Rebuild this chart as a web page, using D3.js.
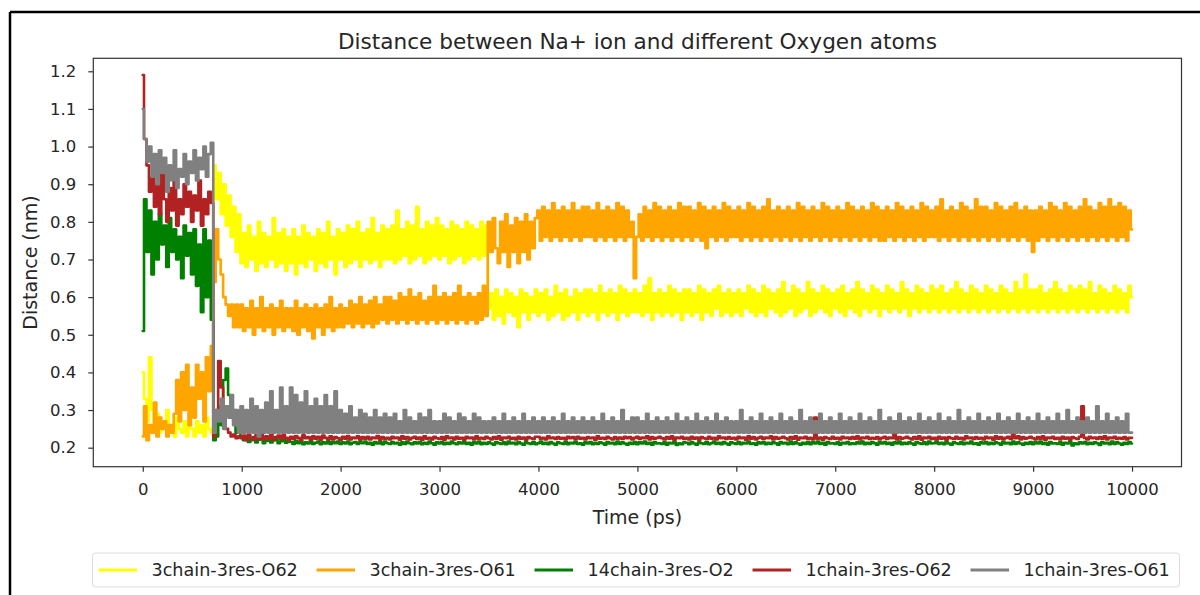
<!DOCTYPE html>
<html>
<head>
<meta charset="utf-8">
<script src="https://cdn.jsdelivr.net/npm/d3@7"></script>
<style>
  body { margin: 0; background: #fff; }
  svg { display: block; }
  text { font-family: "DejaVu Sans", sans-serif; fill: #262626; }
</style>
</head>
<body>
<svg id="chart" width="1200" height="595"></svg>
<script>
// Sampling interval of the trajectory (ps)
const timeStep = 25;

const seriesNames = ["3chain-3res-O62", "3chain-3res-O61", "14chain-3res-O2", "1chain-3res-O62", "1chain-3res-O61"];
const seriesColors = ["#ffff00", "#ffa500", "#008000", "#b22222", "#808080"];

const xTicks = [0, 1000, 2000, 3000, 4000, 5000, 6000, 7000, 8000, 9000, 10000];
const yTicks = [0.2, 0.3, 0.4, 0.5, 0.6, 0.7, 0.8, 0.9, 1.0, 1.1, 1.2];

// Distances (nm), one value per frame; each row covers 500 ps
const o62chain3 = [
  .40,.33,.27,.44,.30,.25,.29,.24,.27,.25,.30,.24,.26,.23,.28,.25,.24,.27,.23,.26,
  .25,.23,.27,.24,.26,.23,.28,.25,.24,.95,.86,.93,.82,.90,.79,.87,.76,.84,.72,.82,
  .69,.77,.68,.79,.70,.76,.67,.80,.69,.77,.68,.76,.70,.81,.68,.77,.69,.78,.67,.76,
  .69,.78,.66,.76,.69,.79,.68,.77,.70,.76,.67,.78,.69,.77,.68,.80,.70,.76,.66,.78,
  .70,.77,.68,.79,.69,.78,.70,.80,.68,.77,.70,.78,.69,.81,.70,.77,.68,.79,.70,.78,
  .70,.79,.69,.83,.70,.78,.71,.80,.69,.79,.70,.84,.71,.78,.69,.80,.70,.79,.71,.81,
  .70,.79,.71,.78,.69,.80,.70,.79,.71,.78,.69,.80,.70,.79,.71,.78,.70,.80,.71,.79,
  .57,.61,.54,.62,.55,.60,.53,.62,.56,.61,.55,.60,.52,.62,.56,.61,.54,.60,.56,.62,
  .55,.61,.56,.62,.54,.60,.55,.63,.56,.61,.54,.62,.55,.60,.56,.62,.54,.61,.56,.62,
  .55,.62,.56,.61,.54,.63,.56,.61,.55,.62,.56,.61,.54,.63,.56,.62,.55,.61,.56,.62,
  .56,.61,.55,.63,.56,.65,.54,.61,.56,.62,.55,.61,.56,.63,.55,.62,.56,.61,.54,.62,
  .56,.62,.55,.61,.56,.63,.54,.62,.56,.61,.55,.62,.57,.63,.55,.61,.56,.62,.55,.61,
  .56,.62,.55,.61,.57,.63,.56,.62,.55,.61,.56,.63,.55,.62,.57,.61,.56,.62,.55,.64,
  .56,.61,.57,.63,.55,.62,.56,.61,.57,.64,.55,.62,.56,.61,.57,.63,.56,.62,.55,.61,
  .57,.62,.56,.63,.55,.61,.57,.62,.56,.64,.55,.62,.57,.61,.56,.63,.57,.62,.55,.61,
  .57,.63,.56,.62,.57,.61,.56,.64,.57,.62,.55,.61,.57,.63,.56,.62,.57,.61,.56,.63,
  .57,.62,.56,.63,.57,.61,.56,.62,.57,.64,.56,.62,.57,.61,.56,.63,.57,.62,.56,.61,
  .57,.63,.56,.62,.57,.61,.56,.63,.57,.62,.56,.61,.57,.64,.56,.62,.57,.66,.56,.62,
  .57,.62,.56,.63,.57,.61,.56,.62,.57,.64,.56,.62,.57,.61,.56,.63,.57,.62,.56,.63,
  .57,.62,.56,.64,.57,.61,.56,.63,.57,.62,.56,.61,.57,.63,.56,.62,.57,.61,.56,.63,
  .60
];

const o61chain3 = [
  .23,.31,.22,.26,.24,.32,.23,.28,.25,.27,.23,.26,.24,.29,.38,.27,.40,.30,.42,.26,
  .36,.28,.42,.33,.40,.27,.44,.35,.47,.64,.78,.70,.66,.60,.58,.55,.58,.52,.58,.52,
  .58,.51,.57,.52,.59,.50,.57,.52,.60,.51,.57,.52,.58,.50,.57,.52,.59,.51,.57,.52,
  .57,.51,.59,.50,.57,.52,.58,.51,.57,.49,.58,.52,.57,.50,.58,.52,.60,.51,.57,.52,
  .58,.52,.57,.53,.59,.52,.58,.53,.60,.52,.58,.53,.59,.52,.60,.53,.58,.54,.60,.53,
  .60,.54,.59,.53,.61,.54,.60,.53,.62,.54,.60,.53,.61,.54,.59,.53,.60,.54,.63,.53,
  .60,.54,.61,.53,.60,.54,.61,.53,.63,.54,.60,.53,.61,.54,.60,.53,.61,.54,.63,.55,
  .80,.72,.81,.73,.69,.80,.72,.82,.68,.79,.72,.81,.69,.80,.72,.82,.70,.80,.73,.81,
  .83,.75,.84,.76,.83,.75,.85,.76,.83,.75,.84,.76,.83,.75,.85,.76,.83,.75,.84,.76,
  .84,.76,.83,.75,.85,.76,.83,.75,.84,.76,.83,.75,.85,.76,.84,.75,.83,.76,.80,.65,
  .76,.82,.75,.84,.76,.83,.75,.85,.76,.84,.75,.83,.76,.84,.75,.83,.76,.85,.75,.84,
  .76,.84,.75,.83,.76,.85,.75,.84,.73,.83,.76,.84,.75,.83,.76,.85,.75,.84,.76,.83,
  .76,.84,.75,.83,.76,.85,.75,.84,.76,.83,.75,.84,.76,.86,.75,.83,.76,.84,.75,.83,
  .76,.84,.75,.83,.76,.85,.75,.84,.76,.83,.75,.84,.76,.83,.75,.85,.76,.84,.75,.83,
  .76,.84,.75,.83,.76,.85,.75,.84,.76,.83,.75,.84,.76,.83,.75,.85,.76,.84,.75,.83,
  .75,.84,.76,.83,.75,.85,.76,.84,.75,.83,.76,.84,.75,.83,.76,.85,.75,.84,.76,.83,
  .76,.84,.75,.86,.76,.83,.75,.84,.76,.83,.75,.85,.76,.84,.75,.83,.76,.86,.75,.84,
  .76,.84,.75,.83,.76,.85,.75,.84,.76,.83,.75,.84,.76,.85,.75,.83,.76,.84,.75,.83,
  .72,.83,.75,.84,.76,.83,.75,.85,.76,.84,.75,.83,.76,.85,.75,.84,.76,.83,.75,.84,
  .76,.86,.75,.84,.76,.83,.75,.85,.76,.84,.75,.86,.76,.84,.75,.85,.76,.84,.75,.83,
  .78
];

const o2chain14 = [
  .51,.86,.72,.83,.66,.80,.70,.82,.74,.79,.68,.81,.72,.78,.70,.76,.65,.79,.71,.77,
  .66,.78,.63,.74,.56,.78,.60,.75,.54,.22,.23,.31,.26,.38,.41,.34,.28,.30,.24,.25,
  .23,.22,.225,.215,.22,.228,.214,.221,.225,.212,.218,.222,.214,.219,.224,.212,.217,.221,.213,.218,
  .215,.21,.218,.212,.216,.209,.214,.211,.217,.21,.213,.216,.209,.214,.211,.217,.21,.215,.212,.216,
  .21,.214,.211,.216,.209,.213,.215,.21,.214,.212,.216,.21,.213,.208,.215,.211,.214,.209,.216,.212,
  .21,.215,.211,.213,.208,.214,.21,.216,.212,.209,.214,.211,.215,.209,.213,.21,.216,.212,.208,.214,
  .211,.215,.209,.213,.21,.216,.212,.209,.214,.211,.215,.21,.213,.208,.214,.211,.216,.209,.213,.21,
  .214,.211,.208,.215,.212,.21,.214,.209,.216,.211,.213,.209,.215,.211,.208,.214,.212,.21,.215,.209,
  .212,.216,.21,.213,.209,.215,.211,.208,.214,.212,.21,.215,.209,.213,.211,.216,.21,.212,.208,.214,
  .211,.215,.209,.213,.21,.214,.212,.208,.215,.211,.213,.209,.216,.21,.214,.211,.208,.213,.21,.215,
  .209,.214,.211,.216,.21,.213,.208,.215,.211,.212,.21,.214,.208,.213,.211,.215,.207,.212,.209,.214,
  .213,.209,.215,.211,.208,.214,.212,.21,.215,.209,.212,.216,.21,.213,.209,.215,.211,.208,.214,.212,
  .21,.215,.209,.213,.211,.216,.21,.212,.208,.214,.211,.215,.209,.213,.21,.214,.212,.208,.215,.211,
  .213,.209,.216,.21,.214,.211,.208,.213,.21,.215,.209,.214,.211,.216,.21,.213,.208,.215,.211,.212,
  .21,.214,.208,.213,.211,.215,.209,.212,.21,.214,.211,.216,.209,.213,.21,.215,.212,.208,.214,.211,
  .215,.21,.213,.208,.214,.211,.216,.209,.213,.21,.214,.211,.208,.215,.212,.21,.214,.209,.216,.211,
  .212,.216,.21,.213,.209,.215,.211,.208,.214,.212,.21,.215,.209,.213,.211,.216,.21,.212,.208,.214,
  .211,.215,.209,.213,.21,.214,.212,.208,.215,.211,.213,.209,.216,.21,.214,.211,.208,.213,.21,.215,
  .209,.214,.211,.216,.21,.213,.208,.215,.211,.212,.21,.214,.208,.213,.211,.215,.206,.212,.209,.214,
  .211,.215,.209,.213,.21,.214,.212,.207,.215,.211,.213,.209,.216,.21,.214,.211,.208,.213,.21,.215,
  .211
];

const o62chain1 = [
  1.19,1.02,.95,.88,.92,.84,.90,.82,.93,.86,.80,.89,.83,.91,.79,.86,.82,.90,.84,.88,
  .80,.87,.83,.91,.79,.86,.82,.88,.85,.23,.30,.43,.36,.28,.25,.24,.23,.235,.225,.23,
  .225,.232,.22,.235,.226,.221,.233,.224,.236,.222,.23,.224,.234,.221,.228,.232,.223,.235,.226,.22,
  .229,.223,.231,.226,.22,.233,.225,.228,.222,.23,.224,.229,.221,.232,.226,.223,.23,.222,.228,.225,
  .221,.229,.224,.231,.222,.227,.225,.23,.221,.228,.224,.229,.222,.227,.225,.231,.221,.228,.224,.226,
  .222,.229,.225,.227,.221,.23,.224,.228,.222,.226,.229,.223,.227,.221,.23,.224,.226,.222,.229,.225,
  .223,.228,.221,.23,.225,.227,.222,.229,.224,.226,.221,.229,.225,.227,.222,.23,.224,.226,.223,.229,
  .225,.222,.228,.224,.23,.221,.227,.225,.229,.223,.226,.222,.229,.224,.227,.221,.228,.225,.223,.229,
  .229,.224,.226,.222,.23,.225,.227,.223,.228,.224,.226,.222,.229,.225,.228,.223,.229,.224,.226,.222,
  .228,.225,.227,.221,.23,.224,.226,.223,.229,.225,.222,.228,.224,.227,.223,.229,.225,.228,.222,.226,
  .229,.223,.227,.225,.23,.222,.228,.224,.226,.229,.225,.222,.228,.224,.23,.221,.227,.225,.229,.223,
  .226,.222,.229,.224,.227,.221,.228,.225,.223,.229,.224,.226,.222,.23,.225,.227,.223,.228,.224,.226,
  .222,.229,.225,.227,.221,.23,.224,.228,.222,.226,.229,.223,.227,.225,.23,.222,.228,.224,.226,.229,
  .225,.222,.228,.224,.23,.221,.227,.225,.229,.223,.226,.222,.28,.224,.227,.221,.228,.225,.223,.229,
  .224,.226,.222,.229,.225,.227,.223,.228,.224,.23,.222,.227,.225,.229,.223,.226,.224,.228,.222,.226,
  .229,.223,.227,.225,.27,.222,.228,.224,.226,.229,.225,.222,.228,.224,.23,.221,.227,.225,.229,.223,
  .226,.222,.229,.224,.227,.221,.228,.225,.223,.229,.224,.226,.222,.23,.225,.227,.223,.228,.224,.226,
  .222,.229,.225,.227,.221,.23,.224,.228,.222,.226,.229,.223,.27,.225,.23,.222,.228,.224,.226,.229,
  .225,.222,.228,.224,.23,.221,.227,.225,.229,.223,.226,.222,.229,.224,.227,.221,.228,.225,.223,.229,
  .31,.226,.222,.229,.225,.227,.223,.228,.224,.23,.222,.227,.225,.229,.223,.226,.224,.228,.222,.226,
  .226
];

const o61chain1 = [
  1.10,1.02,.96,1.00,.92,.98,.90,.99,.93,.97,.88,.95,.91,.99,.89,.94,.92,.98,.90,.96,
  .93,.99,.91,.97,.94,1.00,.92,.98,1.01,.24,.30,.27,.33,.25,.31,.28,.34,.26,.30,.24,
  .31,.24,.30,.24,.33,.24,.31,.23,.30,.24,.32,.24,.35,.24,.30,.24,.36,.24,.31,.24,
  .36,.24,.34,.24,.32,.24,.35,.24,.31,.24,.33,.24,.31,.24,.34,.24,.31,.24,.35,.24,
  .30,.24,.29,.24,.31,.24,.28,.24,.30,.24,.29,.24,.28,.24,.30,.24,.28,.24,.29,.24,
  .28,.24,.29,.24,.27,.24,.30,.24,.28,.24,.27,.24,.29,.24,.28,.24,.30,.24,.27,.24,
  .27,.24,.29,.24,.28,.24,.27,.24,.29,.24,.28,.24,.27,.24,.29,.24,.28,.24,.27,.24,
  .27,.24,.28,.24,.27,.24,.29,.24,.27,.24,.28,.24,.27,.24,.29,.24,.27,.24,.28,.24,
  .27,.24,.28,.24,.27,.24,.28,.24,.27,.24,.29,.24,.27,.24,.28,.24,.27,.24,.28,.24,
  .27,.24,.28,.24,.27,.24,.29,.24,.27,.24,.28,.24,.27,.24,.30,.24,.27,.24,.28,.24,
  .28,.24,.27,.24,.29,.24,.27,.24,.28,.24,.27,.24,.28,.24,.27,.24,.29,.24,.27,.24,
  .28,.24,.27,.24,.29,.24,.27,.24,.28,.24,.27,.24,.29,.24,.27,.24,.28,.24,.27,.24,
  .27,.24,.30,.24,.27,.24,.28,.24,.27,.24,.29,.24,.27,.24,.28,.24,.27,.24,.29,.24,
  .27,.24,.28,.24,.27,.24,.30,.24,.27,.24,.28,.24,.27,.24,.29,.24,.27,.24,.28,.24,
  .27,.24,.29,.24,.27,.24,.28,.24,.27,.24,.29,.24,.27,.24,.28,.24,.27,.24,.30,.24,
  .27,.24,.28,.24,.27,.24,.29,.24,.27,.24,.28,.24,.27,.24,.29,.24,.27,.24,.28,.24,
  .27,.24,.29,.24,.27,.24,.28,.24,.27,.24,.30,.24,.27,.24,.28,.24,.27,.24,.29,.24,
  .27,.24,.28,.24,.27,.24,.29,.24,.27,.24,.28,.24,.27,.24,.29,.24,.27,.24,.28,.24,
  .27,.24,.29,.24,.27,.24,.28,.24,.27,.24,.29,.24,.27,.24,.30,.24,.27,.24,.28,.24,
  .27,.24,.28,.24,.27,.24,.31,.24,.27,.24,.29,.24,.27,.24,.28,.24,.27,.24,.29,.24,
  .24
];

const seriesValues = [o62chain3, o61chain3, o2chain14, o62chain1, o61chain1];

const svg = d3.select("#chart");

// outer frame edges
svg.append("line").attr("x1", 10).attr("x2", 1200).attr("y1", 12).attr("y2", 12)
  .attr("stroke", "#000").attr("stroke-width", 2.5);
svg.append("line").attr("x1", 10).attr("x2", 10).attr("y1", 12).attr("y2", 595)
  .attr("stroke", "#000").attr("stroke-width", 2.5);

const plot = { left: 93.3, right: 1181.5, top: 58.3, bottom: 466.7 };

const x = d3.scaleLinear().domain([-500, 10500]).range([plot.left, plot.right]);
const y = d3.scaleLinear().domain([0.1495, 1.2345]).range([plot.bottom, plot.top]);

// series traces; frames are held until the next one so the fast
// fluctuations read as a dense band, as in a full-resolution trajectory
const line = d3.line()
  .curve(d3.curveStep)
  .x((d, i) => x(i * timeStep))
  .y(d => y(d));

const lines = svg.append("g");
seriesValues.forEach((vals, k) => {
  lines.append("path")
    .datum(vals)
    .attr("d", line)
    .attr("fill", "none")
    .attr("stroke", seriesColors[k])
    .attr("stroke-width", 2.6)
    .attr("stroke-linejoin", "round")
    .attr("stroke-linecap", "round");
});

// axes
const tickFont = "16.5px";
const xAxis = svg.append("g")
  .attr("transform", `translate(0,${plot.bottom})`)
  .call(d3.axisBottom(x).tickValues(xTicks).tickFormat(d3.format("d")).tickSize(5).tickPadding(12));
const yAxis = svg.append("g")
  .attr("transform", `translate(${plot.left},0)`)
  .call(d3.axisLeft(y).tickValues(yTicks).tickFormat(d3.format(".1f")).tickSize(5).tickPadding(12));
[xAxis, yAxis].forEach(a => {
  a.select(".domain").remove();
  a.selectAll(".tick line").attr("stroke", "#333").attr("stroke-width", 1.2);
  a.selectAll(".tick text").attr("fill", "#262626").style("font-size", tickFont)
    .style("font-family", "'DejaVu Sans', sans-serif");
});

// spines
svg.append("rect")
  .attr("x", plot.left).attr("y", plot.top)
  .attr("width", plot.right - plot.left).attr("height", plot.bottom - plot.top)
  .attr("fill", "none").attr("stroke", "#333").attr("stroke-width", 1.2);

// title and axis labels
svg.append("text")
  .attr("x", (plot.left + plot.right) / 2).attr("y", 49)
  .attr("text-anchor", "middle").style("font-size", "21.6px")
  .text("Distance between Na+ ion and different Oxygen atoms");

svg.append("text")
  .attr("x", (plot.left + plot.right) / 2).attr("y", 524)
  .attr("text-anchor", "middle").style("font-size", "19px")
  .text("Time (ps)");

svg.append("text")
  .attr("transform", `translate(37,${(plot.top + plot.bottom) / 2}) rotate(-90)`)
  .attr("text-anchor", "middle").style("font-size", "19px")
  .text("Distance (nm)");

// legend, one row of five entries
const legendBox = { x: 92.5, y: 553, w: 1087, h: 34 };
const legendPitch = 218;
const legend = svg.append("g");
legend.append("rect")
  .attr("x", legendBox.x).attr("y", legendBox.y)
  .attr("width", legendBox.w).attr("height", legendBox.h).attr("rx", 3)
  .attr("fill", "#fff").attr("stroke", "#dcdcdc").attr("stroke-width", 1);
const ly = legendBox.y + legendBox.h / 2;
seriesNames.forEach((name, k) => {
  const lx = 98.5 + k * legendPitch;
  legend.append("line")
    .attr("x1", lx).attr("x2", lx + 38.5).attr("y1", ly).attr("y2", ly)
    .attr("stroke", seriesColors[k]).attr("stroke-width", 2.8);
  legend.append("text")
    .attr("x", lx + 53).attr("y", ly).attr("dy", "0.35em")
    .style("font-size", "17.6px").text(name);
});
</script>
</body>
</html>
